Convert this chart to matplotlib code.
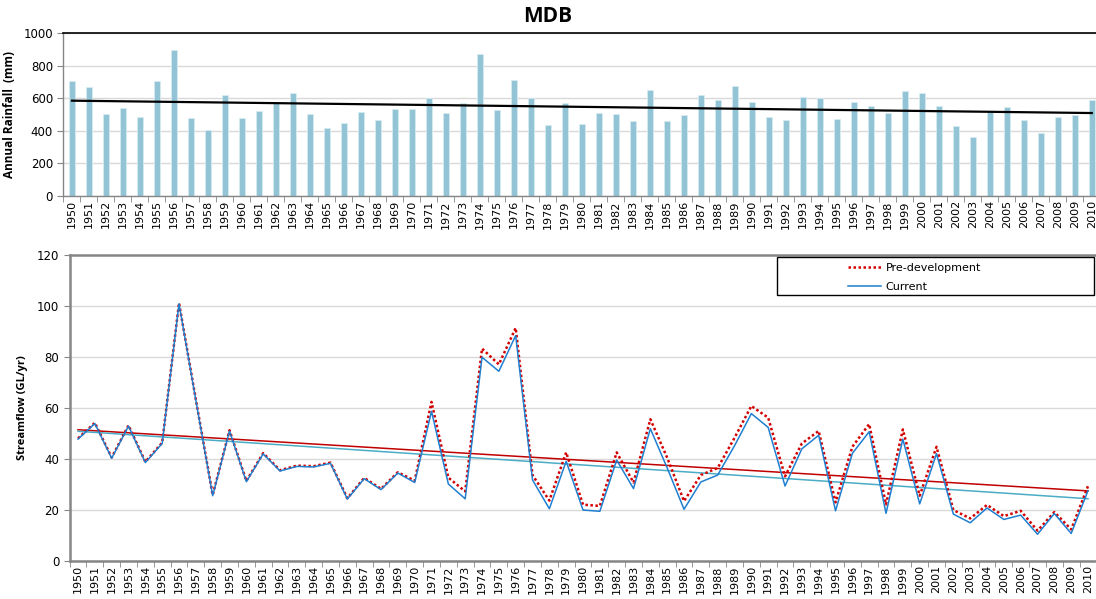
import numpy as np
import matplotlib
matplotlib.use("Agg")
import matplotlib.pyplot as plt
from matplotlib.patches import Rectangle

years = list(range(1950, 2011))

# annual rainfall (mm)
rainfall = [708, 667, 502, 539, 484, 708, 898, 480, 406, 618,
            480, 522, 575, 631, 502, 416, 447, 514, 467, 531,
            531, 600, 508, 569, 869, 527, 714, 604, 435, 569,
            441, 508, 502, 461, 649, 461, 496, 618, 588, 673,
            575, 484, 465, 610, 600, 471, 575, 551, 508, 643,
            631, 555, 429, 361, 520, 545, 465, 386, 484, 496,
            588]

# streamflow (GL/yr)
current = [47.8, 53.9, 40.3, 52.9, 38.6, 46.1, 100.9, 63.0, 25.6, 51.0,
           31.1, 42.0, 35.3, 37.1, 36.9, 38.3, 24.3, 32.3, 28.0, 34.5,
           30.8, 58.7, 30.2, 24.4, 79.9, 74.4, 88.4, 31.8, 20.5, 39.1,
           20.0, 19.5, 39.6, 28.4, 51.9, 36.5, 20.3, 31.0, 33.7, 45.2,
           57.8, 52.4, 29.4, 44.0, 49.3, 19.7, 42.2, 50.7, 18.7, 47.8,
           22.4, 42.1, 18.4, 15.0, 20.8, 16.3, 18.0, 10.5, 18.6, 10.8,
           27.6]
pre_dev = [48.1, 54.2, 40.6, 53.2, 38.9, 46.4, 101.2, 63.3, 25.9, 51.3,
           31.4, 42.3, 35.6, 37.4, 37.2, 38.6, 24.6, 32.6, 28.3, 34.8,
           31.5, 62.4, 32.7, 27.3, 83.3, 77.1, 91.4, 33.7, 23.7, 42.6,
           22.1, 21.6, 42.6, 30.8, 55.6, 40.5, 23.5, 33.7, 36.5, 48.3,
           60.8, 56.2, 33.2, 46.1, 51.0, 23.0, 44.8, 53.7, 22.2, 51.6,
           25.6, 44.8, 20.0, 16.7, 22.0, 17.6, 19.7, 11.9, 19.2, 12.4,
           29.4]

x = np.arange(len(years))
grid_col = "#d9d9d9"
axis_col = "#868686"


def trend(vals):
    k, b = np.polyfit(x, vals, 1)
    return k * x + b


def style_xaxis(ax):
    ax.set_xlim(-0.5, len(years) - 0.5)
    ax.set_xticks(x)
    ax.set_xticklabels([str(y) for y in years], rotation=90, fontsize=8)
    ax.set_xticks(np.arange(-0.5, len(years), 1), minor=True)
    ax.tick_params(axis="x", which="major", length=0, pad=3)
    ax.tick_params(axis="x", which="minor", length=4, color=axis_col, direction="out")
    ax.tick_params(axis="y", length=4, color=axis_col, labelsize=8.5)


fig = plt.figure(figsize=(10.96, 5.99), dpi=100)

# --- rainfall bars ---
ax1 = fig.add_axes([0.0579, 0.6728, 0.946, 0.2721])
ax1.bar(x, rainfall, width=0.38, color="#93c4d6", edgecolor="#d6ebf2", linewidth=0.6, zorder=2)
ax1.plot(x, trend(rainfall), color="black", linewidth=1.6, zorder=3)
ax1.set_ylim(0, 1000)
ax1.set_yticks(range(0, 1001, 200))
ax1.yaxis.grid(True, color=grid_col, linewidth=1, zorder=0)
ax1.set_axisbelow(True)
style_xaxis(ax1)
ax1.spines["right"].set_visible(False)
ax1.spines["top"].set_color("black")
ax1.spines["top"].set_linewidth(1.2)
for s in ["left", "bottom"]:
    ax1.spines[s].set_color(axis_col)
    ax1.spines[s].set_linewidth(1)
ax1.set_ylabel("Annual Rainfall  (mm)", fontsize=8.5, fontweight="bold",
               family="Open Sans", labelpad=5)

# --- streamflow lines ---
ax2 = fig.add_axes([0.0635, 0.0634, 0.9369, 0.5109])
ax2.plot(x, pre_dev, color="#d40000", linewidth=1.8, linestyle=(0, (1, 1)),
         label="Pre-development", zorder=3)
ax2.plot(x, current, color="#1f7fd0", linewidth=1.1, label="Current", zorder=4)
ax2.plot(x, trend(pre_dev), color="#c00000", linewidth=1.1, zorder=2)
ax2.plot(x, trend(current), color="#4bacc6", linewidth=1.1, zorder=2)
ax2.set_ylim(0, 120)
ax2.set_yticks(range(0, 121, 20))
ax2.yaxis.grid(True, color=grid_col, linewidth=1, zorder=0)
ax2.set_axisbelow(True)
style_xaxis(ax2)
for s in ["left", "bottom", "top"]:
    ax2.spines[s].set_color(axis_col)
    ax2.spines[s].set_linewidth(1.8)
ax2.spines["right"].set_visible(False)
ax2.set_ylabel("Streamflow (GL/yr)", fontsize=8, fontweight="bold",
               family="Open Sans", labelpad=6)

box = Rectangle((0.689, 0.869), 0.3087, 0.1242, transform=ax2.transAxes,
                facecolor="white", edgecolor="black", linewidth=1, zorder=5)
ax2.add_patch(box)
ax2.legend(loc="center left", bbox_to_anchor=(0.758, 0.9265), frameon=False,
           fontsize=8, handlelength=3.0, handletextpad=0.4, labelspacing=0.75,
           borderpad=0, borderaxespad=0).set_zorder(6)

fig.text(0.5, 0.972, "MDB", ha="center", va="center", fontsize=15,
         fontweight="bold", family="Open Sans")

fig.savefig("out.png", dpi=100)
